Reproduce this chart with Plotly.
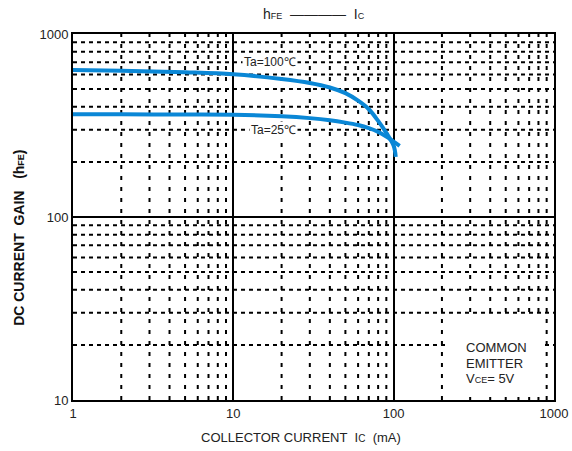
import plotly.graph_objects as go

# Collector current (mA) and DC current gain for two ambient temperatures
ic_100 = [1, 2, 5, 10, 20, 30, 40, 50, 60, 70, 80, 90, 100, 103]
hfe_100 = [635, 630, 618, 603, 568, 540, 510, 475, 432, 388, 335, 288, 245, 213]

ic_25 = [1, 2, 5, 10, 20, 30, 40, 50, 60, 70, 80, 90, 100, 109]
hfe_25 = [364, 364, 363, 362, 355, 347, 338, 328, 318, 306, 292, 275, 258, 245]

x_ticks = [1, 10, 100, 1000]
y_ticks = [10, 100, 1000]

BLUE = "#0a87d6"
FONT = "Liberation Sans, Arial, sans-serif"
INK = "#222"

fig = go.Figure()

# Dashed minor grid at 2..9 within each decade
for dec in [1, 10, 100]:
    for m in range(2, 10):
        fig.add_shape(type="line", xref="x", yref="paper", x0=dec * m, x1=dec * m, y0=0, y1=1,
                      line=dict(color="black", width=2, dash="4px,7px"), layer="below")
for dec in [10, 100]:
    for m in range(2, 10):
        fig.add_shape(type="line", xref="paper", yref="y", x0=0, x1=1, y0=dec * m, y1=dec * m,
                      line=dict(color="black", width=2, dash="4px,4px"), layer="below")

fig.add_trace(go.Scatter(x=ic_100, y=hfe_100, mode="lines", line=dict(color=BLUE, width=4, shape="spline"),
                         showlegend=False, hoverinfo="skip"))
fig.add_trace(go.Scatter(x=ic_25, y=hfe_25, mode="lines", line=dict(color=BLUE, width=4, shape="spline"),
                         showlegend=False, hoverinfo="skip"))

axis_common = dict(
    type="log",
    showline=True, linecolor="black", linewidth=2, mirror=True,
    showgrid=True, gridcolor="black", gridwidth=2,
    ticks="", zeroline=False, layer="below traces",
    automargin=False, ticklabeloverflow="allow",
    tickfont=dict(family=FONT, size=13, color=INK),
)

fig.update_xaxes(**axis_common, range=[0, 3], tickvals=x_ticks, ticktext=[str(v) for v in x_ticks])
fig.update_yaxes(**axis_common, range=[1, 3], tickvals=y_ticks, ticktext=[str(v) for v in y_ticks])

# Axis titles
fig.add_annotation(x=0.474, y=0, xref="paper", yref="paper", yanchor="middle", yshift=-37,
                   text="COLLECTOR CURRENT&nbsp;&nbsp;I<span style='font-size:10px'>C</span>&nbsp;&nbsp;(mA)",
                   showarrow=False, font=dict(family=FONT, size=13, color=INK))
fig.add_annotation(x=0, y=0.443, xref="paper", yref="paper", xanchor="center", xshift=-54, textangle=-90,
                   text="<b>DC CURRENT&nbsp;&nbsp;GAIN&nbsp;&nbsp;&nbsp;(h<span style='font-size:9px'>FE</span>)</b>",
                   showarrow=False, font=dict(family=FONT, size=14, color="#111"))

# Clear panel behind the test-condition note
fig.add_shape(type="rect", xref="x", yref="y", x0=215, x1=870, y0=10.4, y1=28.5,
              fillcolor="white", line=dict(width=0), layer="below")

fig.add_annotation(x=1.226, y=2.847, xref="x", yref="y", text="Ta=100℃", showarrow=False,
                   font=dict(family=FONT, size=12, color=INK), bgcolor="white", borderpad=1)
fig.add_annotation(x=1.252, y=2.475, xref="x", yref="y", text="Ta=25℃", showarrow=False,
                   font=dict(family=FONT, size=12, color=INK), bgcolor="white", borderpad=1)

note_lines = ["COMMON", "EMITTER", "V<span style='font-size:9px'>CE</span>= 5V"]
for i, line in enumerate(note_lines):
    fig.add_annotation(x=2.44, y=1.285 - i * 0.083, xref="x", yref="y", xanchor="left", yanchor="middle",
                       text=line, showarrow=False, font=dict(family=FONT, size=13, color=INK))

fig.add_annotation(x=0.5, y=1, xref="paper", yref="paper", yanchor="bottom", yshift=10,
                   text="h<span style='font-size:9px'>FE</span>  ————  I<span style='font-size:9px'>C</span>",
                   showarrow=False, font=dict(family=FONT, size=14, color=INK))

fig.update_layout(
    width=572, height=451,
    margin=dict(l=73, r=18, t=34, b=51, autoexpand=False),
    paper_bgcolor="white", plot_bgcolor="white",
)

fig.write_html("out.html")
